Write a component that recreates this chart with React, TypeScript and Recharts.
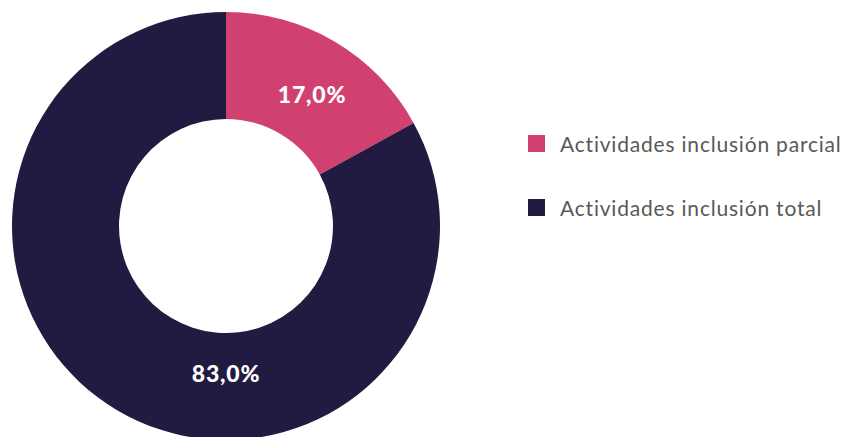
import React from 'react';
import { PieChart, Pie, Cell, Legend } from 'recharts';

const categories = ['Actividades inclusión parcial', 'Actividades inclusión total'];
const values = [17.0, 83.0];
const colors = ['#D1416F', '#211B42'];

const data = categories.map((name, i) => ({ name, value: values[i] }));

const RAD = Math.PI / 180;

const renderLabel = (props: any) => {
  const { cx, cy, midAngle, innerRadius, outerRadius, index, value } = props;
  // the large slice carries its label at the bottom of the ring
  const angle = index === 1 ? -90 : midAngle - 2.5;
  const r = index === 1 ? 147 : (innerRadius + outerRadius) / 2 - 3;
  const x = cx + r * Math.cos(-angle * RAD);
  const y = cy + r * Math.sin(-angle * RAD);
  return (
    <text x={x} y={y} fill="#ffffff" textAnchor="middle" dominantBaseline="central"
      fontFamily="Lato, sans-serif" fontWeight={900} fontSize={23} letterSpacing={0.8}>
      {value.toFixed(1).replace('.', ',')}%
    </text>
  );
};

const renderLegend = () => (
  <div style={{ fontFamily: 'Lato, sans-serif', fontSize: 21, letterSpacing: 0.8, color: '#595959' }}>
    {data.map((d, i) => (
      <div key={d.name} style={{ display: 'flex', alignItems: 'center', height: 20, marginBottom: i === 0 ? 44 : 0 }}>
        <span style={{ display: 'inline-block', width: 17, height: 17, background: colors[i], marginRight: 15 }} />
        <span>{d.name}</span>
      </div>
    ))}
  </div>
);

const App: React.FC = () => {
  return (
    <div style={{ position: 'absolute', left: 0, top: 0, width: 845, height: 437, background: '#fff' }}>
      <PieChart width={845} height={437} margin={{ top: 0, right: 0, bottom: 0, left: 0 }}>
        <Pie
          data={data}
          dataKey="value"
          nameKey="name"
          cx={226}
          cy={226}
          innerRadius={107}
          outerRadius={214}
          startAngle={90}
          endAngle={-270}
          stroke="none"
          labelLine={false}
          label={renderLabel}
          isAnimationActive={false}
        >
          {data.map((d, i) => (
            <Cell key={d.name} fill={colors[i]} />
          ))}
        </Pie>
        <Legend content={renderLegend} wrapperStyle={{ left: 528, top: 133, width: 320 }} />
      </PieChart>
    </div>
  );
};

export default App;
